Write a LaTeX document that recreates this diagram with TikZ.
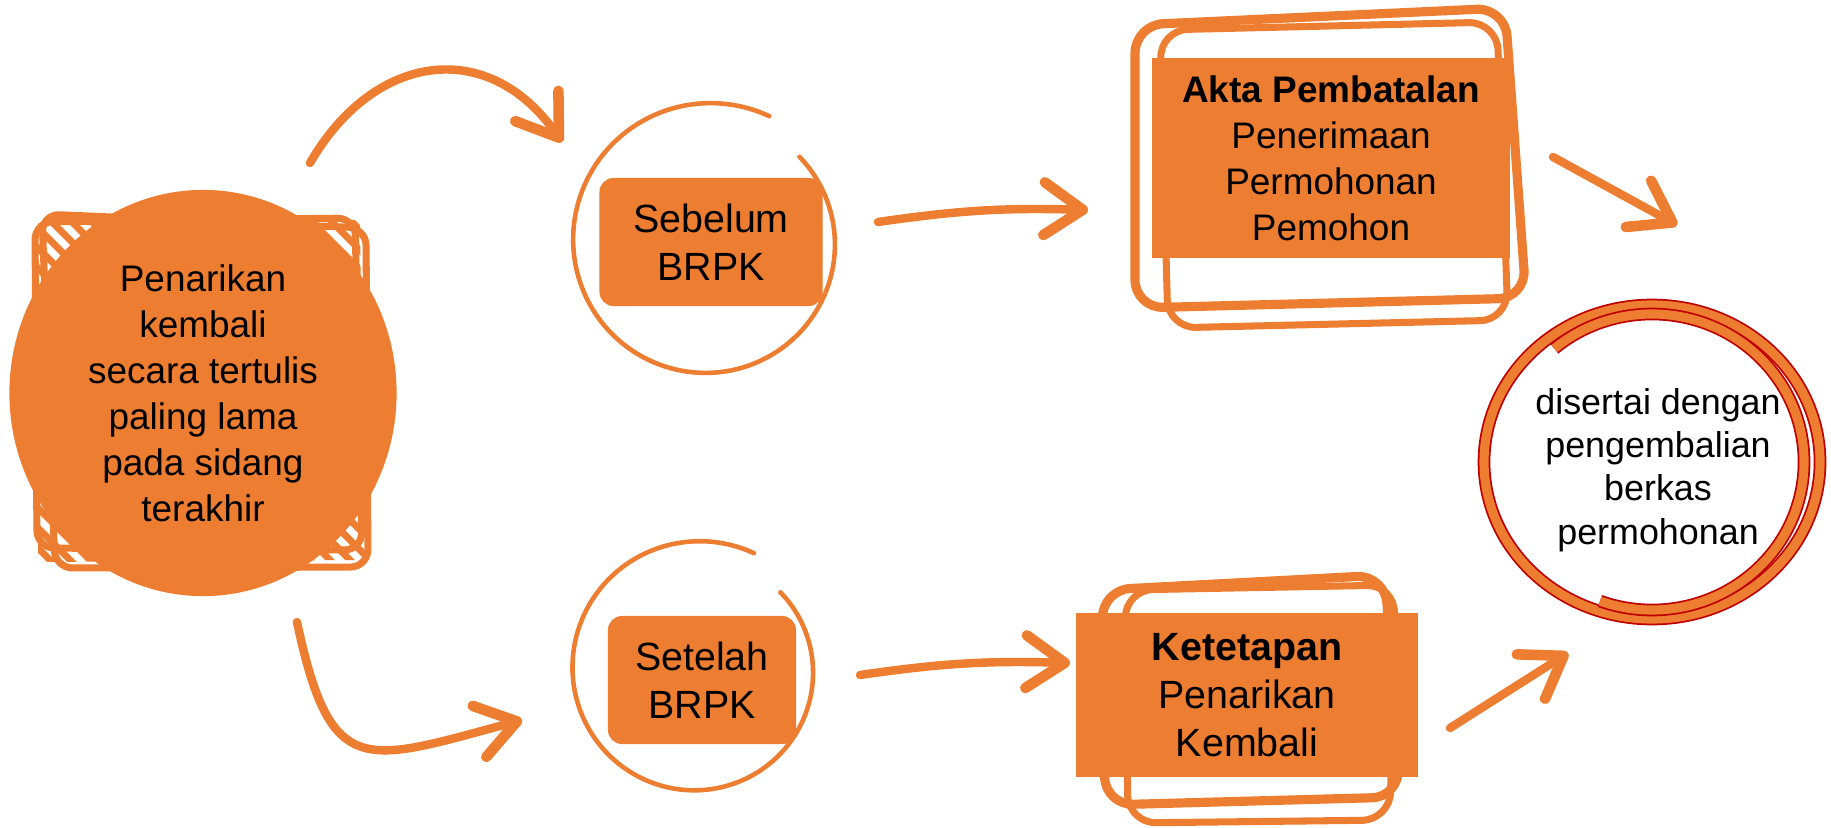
\documentclass[tikz,border=0pt]{standalone}
\usepackage{fontspec}
\setmainfont{Liberation Sans}
\usetikzlibrary{arrows.meta,shapes.geometric}
\definecolor{accent}{RGB}{237,125,49}
\definecolor{darkred}{RGB}{192,0,0}

\begin{document}
\begin{tikzpicture}[x=0.01cm, y=0.01cm]
	\tikzstyle{txt} = [font=\fontsize{10.5pt}{13.1pt}\selectfont, align=center, text=black]
	\tikzstyle{bigtxt} = [font=\fontsize{11.2pt}{13.6pt}\selectfont, align=center, text=black]
	\tikzstyle{start_i} = [ellipse, fill=accent, minimum width=3.87cm, minimum height=4.06cm, inner sep=0pt, txt]
	\tikzstyle{brpk_i} = [rectangle, rounded corners=4pt, fill=accent, minimum height=1.28cm, bigtxt]
	\tikzstyle{result_i} = [rectangle, fill=accent]
	\tikzstyle{sketch} = [draw=accent, line width=2pt, rounded corners=8pt, line join=round]
	\tikzstyle{ring} = [draw=accent, line width=1.3pt, line cap=round]
	\tikzstyle{redring} = [draw=darkred, line width=0.5pt, double=accent, double distance=2.6pt]
	\tikzstyle{flow} = [draw=accent, line width=2.4pt, line cap=round, -{Straight Barb[round, length=11pt, width=15pt, line width=3pt]}]

	\useasboundingbox (0,0) rectangle (1831,-827);

	% hatched square behind the start
	\begin{scope}
		\clip (38,-218) -- (360,-220) -- (364,-560) -- (38,-562) -- cycle;
		\foreach \i in {0,20,...,700}
			\draw[accent, line width=2pt] (\i-330,-200) -- ++(400,-400);
	\end{scope}
	\draw[sketch, rounded corners=5pt] (35,-222) -- (355,-218) -- (362,-550) -- (37,-548) -- cycle;
	\draw[sketch, rounded corners=5pt] (42,-214) -- (366,-228) -- (368,-567) -- (55,-568) -- cycle;

	\node[start_i] (penarikan) at (203,-393) {Penarikan\\kembali\\secara tertulis\\paling lama\\pada sidang\\terakhir};

	% rings
	\foreach \name/\x/\y/\ra/\rb in {ring_sebelum/708/242/140/125, ring_setelah/697/670/130/114} {
		\coordinate (\name) at (\x,-\y);
		\draw[ring] plot[variable=\t, domain=64:403, samples=90, smooth]
			({\x+(\ra+(\rb-\ra)*(\t-64)/339)*cos(\t)}, {-\y+(\ra+(\rb-\ra)*(\t-64)/339)*sin(\t)});
	}
	\node[brpk_i, minimum width=2.23cm] (sebelum) at (711,-242) {Sebelum\\BRPK};
	\node[brpk_i, minimum width=1.88cm] (setelah) at (702,-680) {Setelah\\BRPK};

	% results
	\draw[sketch, line width=2.6pt] (1135,-25) -- (1505,-8) -- (1526,-298) -- (1135,-308) -- cycle;
	\draw[sketch] (1160,-30) -- (1497,-22) -- (1508,-320) -- (1168,-328) -- cycle;
	\node[result_i, txt, minimum width=3.57cm, minimum height=2.0cm] (akta) at (1331,-158) {\textbf{Akta Pembatalan}\\Penerimaan\\Permohonan\\Pemohon};

	\draw[sketch, line width=2.6pt] (1102,-590) -- (1385,-575) -- (1400,-797) -- (1105,-805) -- cycle;
	\draw[sketch] (1125,-590) -- (1395,-585) -- (1390,-820) -- (1128,-823) -- cycle;
	\node[result_i, bigtxt, minimum width=3.42cm, minimum height=1.64cm] (ketetapan) at (1247,-695) {\textbf{Ketetapan}\\Penarikan\\Kembali};

	\coordinate (ring_berkas) at (1652,-462);
	\draw[redring] (ring_berkas) ellipse [x radius=168, y radius=157];
	\draw[redring] (ring_berkas) ++({152*cos(130)},{148*sin(130)}) arc[start angle=130, end angle=-110, x radius=152, y radius=148];
	\node[txt, font=\fontsize{10.2pt}{12.3pt}\selectfont] (berkas) at (1658,-470) {disertai dengan\\pengembalian\\berkas\\permohonan};

	% connectors
	\foreach \name/\x/\y in {a_1/310/163, b_1/562/142, a_2/297/622, b_2/522/720,
		a_3/878/222, b_3/1088/210, a_4/860/675, b_4/1070/663,
		a_5/1553/157, b_5/1677/225, a_6/1450/728, b_6/1568/653}
		\coordinate (\name) at (\x,-\y);

	\draw[flow] (a_1) to[out=60, in=125, looseness=1.3] (b_1);
	\draw[flow] (a_2) to[out=-78, in=195, looseness=1.7] (b_2);
	\foreach \from/\to/\b in {a_3/b_3/5, a_4/b_4/5, a_5/b_5/0, a_6/b_6/0}
		\draw[flow] (\from) to[bend left=\b] (\to);
\end{tikzpicture}
\end{document}
